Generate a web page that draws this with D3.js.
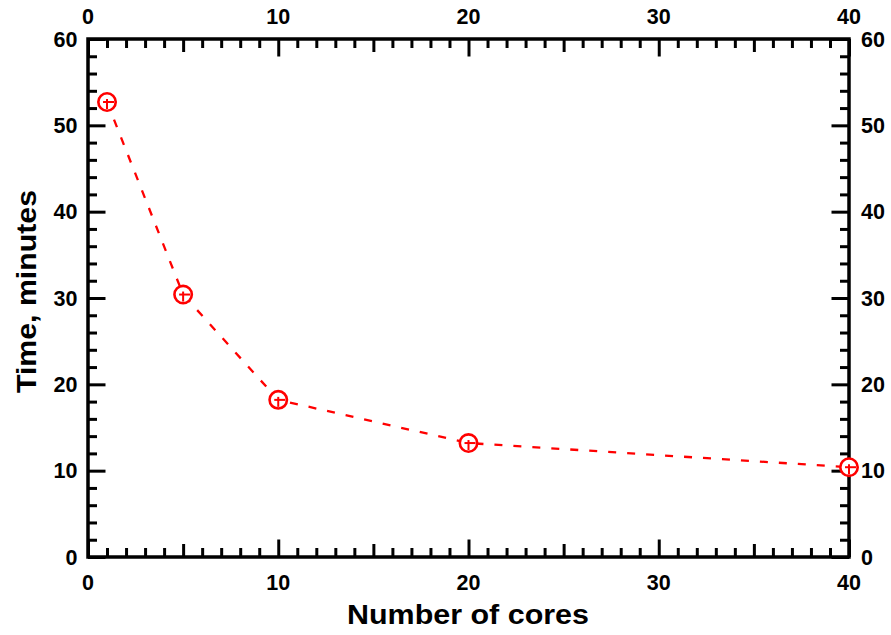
<!DOCTYPE html>
<html>
<head>
<meta charset="utf-8">
<script src="https://cdn.jsdelivr.net/npm/d3@7"></script>
<style>
  html, body { margin: 0; padding: 0; background: #fff; }
  svg { display: block; }
  text { font-family: "Liberation Sans", Arial, sans-serif; font-weight: bold; fill: #000; }
</style>
</head>
<body>
<svg id="chart" width="891" height="635"></svg>
<script>
const cores = [1, 5, 10, 20, 40];
const timeMinutes = [52.7, 30.4, 18.2, 13.2, 10.4];
const xTickLabels = [0, 10, 20, 30, 40];
const yTickLabels = [0, 10, 20, 30, 40, 50, 60];
const xTitle = "Number of cores";
const yTitle = "Time, minutes";

const svg = d3.select("#chart");
const m = { left: 88, right: 849, top: 39, bottom: 557 };

const x = d3.scaleLinear().domain([0, 40]).range([m.left, m.right]);
const y = d3.scaleLinear().domain([0, 60]).range([m.bottom, m.top]);

const xMinor = d3.range(0, 41, 1);
const yMinor = d3.range(0, 61, 2);

function tickLenX(v) { return v % 10 === 0 ? 17.5 : (v % 5 === 0 ? 13 : 9); }
function tickLenY(v) { return v % 10 === 0 ? 17.5 : 9; }

function styleAxis(g) {
  g.select(".domain").remove();
  g.selectAll(".tick line").attr("stroke", "#000").attr("stroke-width", 3);
}

const gB = svg.append("g").attr("transform", `translate(0,${m.bottom})`)
  .call(d3.axisBottom(x).tickValues(xMinor).tickSize(0).tickFormat(""));
gB.call(styleAxis);
gB.selectAll(".tick line").attr("y2", d => -tickLenX(d));
const gT = svg.append("g").attr("transform", `translate(0,${m.top})`)
  .call(d3.axisTop(x).tickValues(xMinor).tickSize(0).tickFormat(""));
gT.call(styleAxis);
gT.selectAll(".tick line").attr("y2", d => tickLenX(d));
const gL = svg.append("g").attr("transform", `translate(${m.left},0)`)
  .call(d3.axisLeft(y).tickValues(yMinor).tickSize(0).tickFormat(""));
gL.call(styleAxis);
gL.selectAll(".tick line").attr("x2", d => tickLenY(d));
const gR = svg.append("g").attr("transform", `translate(${m.right},0)`)
  .call(d3.axisRight(y).tickValues(yMinor).tickSize(0).tickFormat(""));
gR.call(styleAxis);
gR.selectAll(".tick line").attr("x2", d => -tickLenY(d));

const fs = "21.5px";
svg.append("g").selectAll("text").data(xTickLabels).join("text")
  .attr("x", d => x(d)).attr("y", 590).attr("text-anchor", "middle")
  .style("font-size", fs).text(d => d);
svg.append("g").selectAll("text").data(xTickLabels).join("text")
  .attr("x", d => x(d)).attr("y", 24).attr("text-anchor", "middle")
  .style("font-size", fs).text(d => d);
svg.append("g").selectAll("text").data(yTickLabels).join("text")
  .attr("x", 77.5).attr("y", d => y(d) + 7.7).attr("text-anchor", "end")
  .style("font-size", fs).text(d => d);
svg.append("g").selectAll("text").data(yTickLabels).join("text")
  .attr("x", 861).attr("y", d => y(d) + 7.7).attr("text-anchor", "start")
  .style("font-size", fs).text(d => d);

svg.append("rect").attr("x", m.left).attr("y", m.top)
  .attr("width", m.right - m.left).attr("height", m.bottom - m.top)
  .attr("fill", "none").attr("stroke", "#000").attr("stroke-width", 3.5);

svg.append("text").attr("x", 468).attr("y", 624)
  .attr("text-anchor", "middle").style("font-size", "27px")
  .attr("textLength", 242).attr("lengthAdjust", "spacingAndGlyphs").text(xTitle);
svg.append("text").attr("transform", `translate(36,291.5) rotate(-90)`)
  .attr("text-anchor", "middle").style("font-size", "27px")
  .attr("textLength", 203).attr("lengthAdjust", "spacingAndGlyphs").text(yTitle);

const pts = cores.map((c, i) => [c, timeMinutes[i]]);
const line = d3.line().x(d => x(d[0])).y(d => y(d[1])).curve(d3.curveLinear);
svg.append("path").datum(pts).attr("d", line)
  .attr("fill", "none").attr("stroke", "#ff0000").attr("stroke-width", 2.3)
  .attr("stroke-dasharray", "8,11");

const mk = svg.append("g").selectAll("g").data(pts).join("g")
  .attr("transform", d => `translate(${x(d[0])},${y(d[1])})`);
mk.append("circle").attr("r", 8.7).attr("fill", "#fff")
  .attr("stroke", "#ff0000").attr("stroke-width", 2.6);
mk.append("line").attr("x1", -4).attr("x2", 7).attr("y1", 0).attr("y2", 0)
  .attr("stroke", "#ff0000").attr("stroke-width", 2);
mk.append("line").attr("x1", 0).attr("x2", 0).attr("y1", -3).attr("y2", 7)
  .attr("stroke", "#ff0000").attr("stroke-width", 2);
</script>
</body>
</html>
